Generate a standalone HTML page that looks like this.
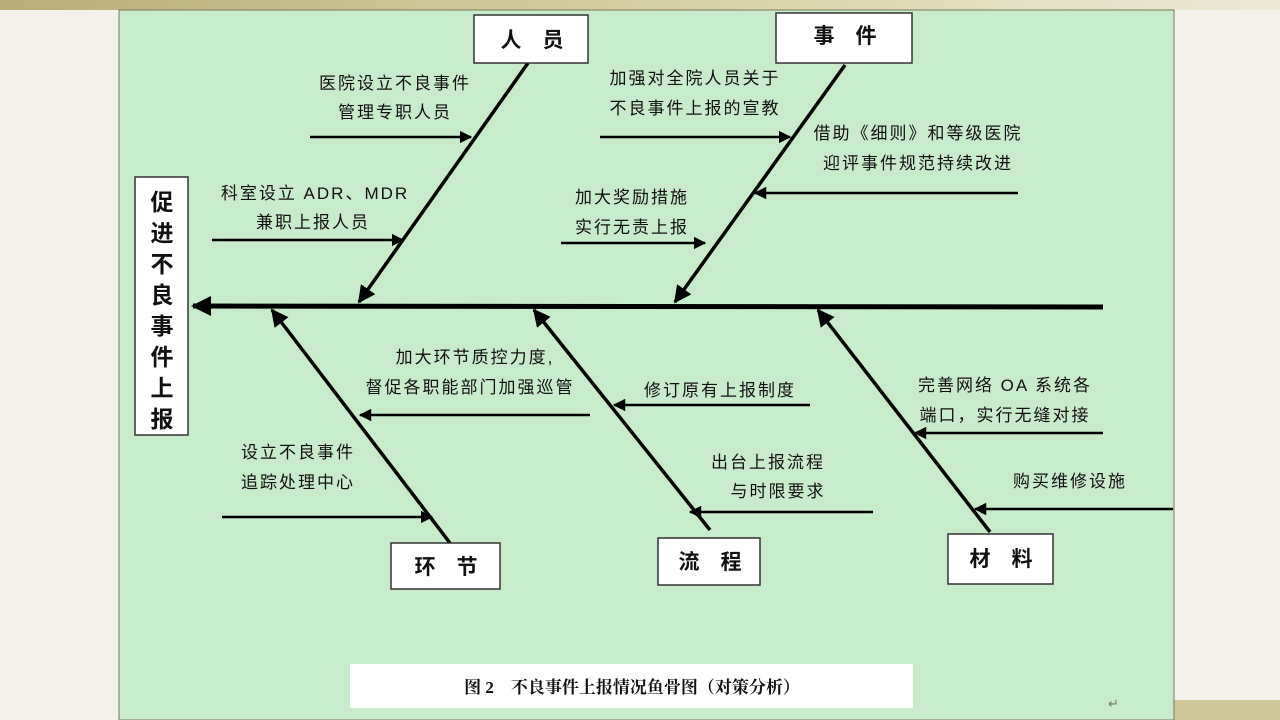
<!DOCTYPE html>
<html><head><meta charset="utf-8"><style>
html,body{margin:0;padding:0;width:1280px;height:720px;overflow:hidden;background:#f2f1ea}
svg{display:block}
text{font-family:"Liberation Sans","Noto Sans CJK SC",sans-serif;fill:#111}
.t{font-size:17px;text-anchor:middle;letter-spacing:2px}
.b{font-size:21px;font-weight:bold;text-anchor:middle}
</style></head><body>
<svg width="1280" height="720" viewBox="0 0 1280 720" xmlns="http://www.w3.org/2000/svg">
<defs>
<linearGradient id="tg" x1="0" x2="1"><stop offset="0" stop-color="#b8ae78"/><stop offset="0.5" stop-color="#d6cfa4"/><stop offset="1" stop-color="#ece9d8"/></linearGradient>
<marker id="a" viewBox="0 0 10 10" refX="9" refY="5" markerWidth="5" markerHeight="5" orient="auto"><path d="M0,0 L10,5 L0,10 z" fill="#000"/></marker>
<marker id="s" viewBox="0 0 10 10" refX="9" refY="5" markerWidth="4" markerHeight="4" orient="auto"><path d="M0,0 L10,5 L0,10 z" fill="#000"/></marker>
</defs>
<rect x="0" y="0" width="1280" height="10" fill="url(#tg)"/>
<rect x="1173" y="700" width="107" height="20" fill="#cfc79a"/>
<rect x="119" y="10" width="1055" height="710" fill="#c8ebcc" stroke="#7a7a5a" stroke-width="1"/>
<line x1="1103" y1="307" x2="193" y2="306" stroke="#000" stroke-width="5" marker-end="url(#s)"/>
<g stroke="#000" stroke-width="3.5" fill="none">
<line x1="528" y1="63" x2="359" y2="302" marker-end="url(#a)"/>
<line x1="845" y1="65" x2="675" y2="302" marker-end="url(#a)"/>
<line x1="450" y1="543" x2="272" y2="310" marker-end="url(#a)"/>
<line x1="710" y1="530" x2="534" y2="310" marker-end="url(#a)"/>
<line x1="990" y1="532" x2="818" y2="310" marker-end="url(#a)"/>
</g>
<g stroke="#000" stroke-width="2.5" fill="none">
<line x1="310" y1="137" x2="471" y2="137" marker-end="url(#a)"/>
<line x1="212" y1="240" x2="403" y2="240" marker-end="url(#a)"/>
<line x1="600" y1="137" x2="790" y2="137" marker-end="url(#a)"/>
<line x1="1018" y1="193" x2="755" y2="193" marker-end="url(#a)"/>
<line x1="561" y1="243" x2="705" y2="243" marker-end="url(#a)"/>
<line x1="590" y1="415" x2="360" y2="415" marker-end="url(#a)"/>
<line x1="222" y1="517" x2="432" y2="517" marker-end="url(#a)"/>
<line x1="810" y1="405" x2="614" y2="405" marker-end="url(#a)"/>
<line x1="873" y1="512" x2="690" y2="512" marker-end="url(#a)"/>
<line x1="1103" y1="433" x2="915" y2="433" marker-end="url(#a)"/>
<line x1="1173" y1="509" x2="975" y2="509" marker-end="url(#a)"/>
</g>
<g fill="#fff" stroke="#333" stroke-width="1.5">
<rect x="135" y="177" width="53" height="258"/>
<rect x="474" y="15" width="114" height="48"/>
<rect x="776" y="13" width="136" height="50"/>
<rect x="391" y="543" width="109" height="46"/>
<rect x="658" y="538" width="102" height="47"/>
<rect x="948" y="534" width="105" height="50"/>
<rect x="350" y="664" width="563" height="44" stroke="none"/>
</g>
<g>
<text class="b" x="532" y="47">人　员</text>
<text class="b" x="845" y="43">事　件</text>
<text class="b" x="446" y="574">环　节</text>
<text class="b" x="710" y="569">流　程</text>
<text class="b" x="1001" y="566">材　料</text>
<text class="b" x="162" y="210" style="font-size:23px">促</text>
<text class="b" x="162" y="241" style="font-size:23px">进</text>
<text class="b" x="162" y="272" style="font-size:23px">不</text>
<text class="b" x="162" y="303" style="font-size:23px">良</text>
<text class="b" x="162" y="334" style="font-size:23px">事</text>
<text class="b" x="162" y="365" style="font-size:23px">件</text>
<text class="b" x="162" y="396" style="font-size:23px">上</text>
<text class="b" x="162" y="427" style="font-size:23px">报</text>
</g>
<g>
<text class="t" x="395" y="89">医院设立不良事件</text>
<text class="t" x="395" y="118">管理专职人员</text>
<text class="t" x="315" y="199">科室设立 ADR、MDR</text>
<text class="t" x="313" y="228">兼职上报人员</text>
<text class="t" x="695" y="84">加强对全院人员关于</text>
<text class="t" x="695" y="114">不良事件上报的宣教</text>
<text class="t" x="918" y="139">借助《细则》和等级医院</text>
<text class="t" x="918" y="169">迎评事件规范持续改进</text>
<text class="t" x="632" y="203">加大奖励措施</text>
<text class="t" x="632" y="233">实行无责上报</text>
<text class="t" x="475" y="363">加大环节质控力度,</text>
<text class="t" x="470" y="393">督促各职能部门加强巡管</text>
<text class="t" x="298" y="458">设立不良事件</text>
<text class="t" x="298" y="488">追踪处理中心</text>
<text class="t" x="720" y="396">修订原有上报制度</text>
<text class="t" x="768" y="468">出台上报流程</text>
<text class="t" x="778" y="497">与时限要求</text>
<text class="t" x="1005" y="391">完善网络 OA 系统各</text>
<text class="t" x="1005" y="421">端口，实行无缝对接</text>
<text class="t" x="1070" y="487">购买维修设施</text>
<text x="632" y="693" style="font-family:'Liberation Serif','Noto Serif CJK SC',serif;font-size:17px;font-weight:bold;text-anchor:middle">图 2　不良事件上报情况鱼骨图（对策分析）</text>
<text x="1108" y="708" style="font-size:13px;fill:#777">↵</text>
</g>
</svg>
</body></html>
